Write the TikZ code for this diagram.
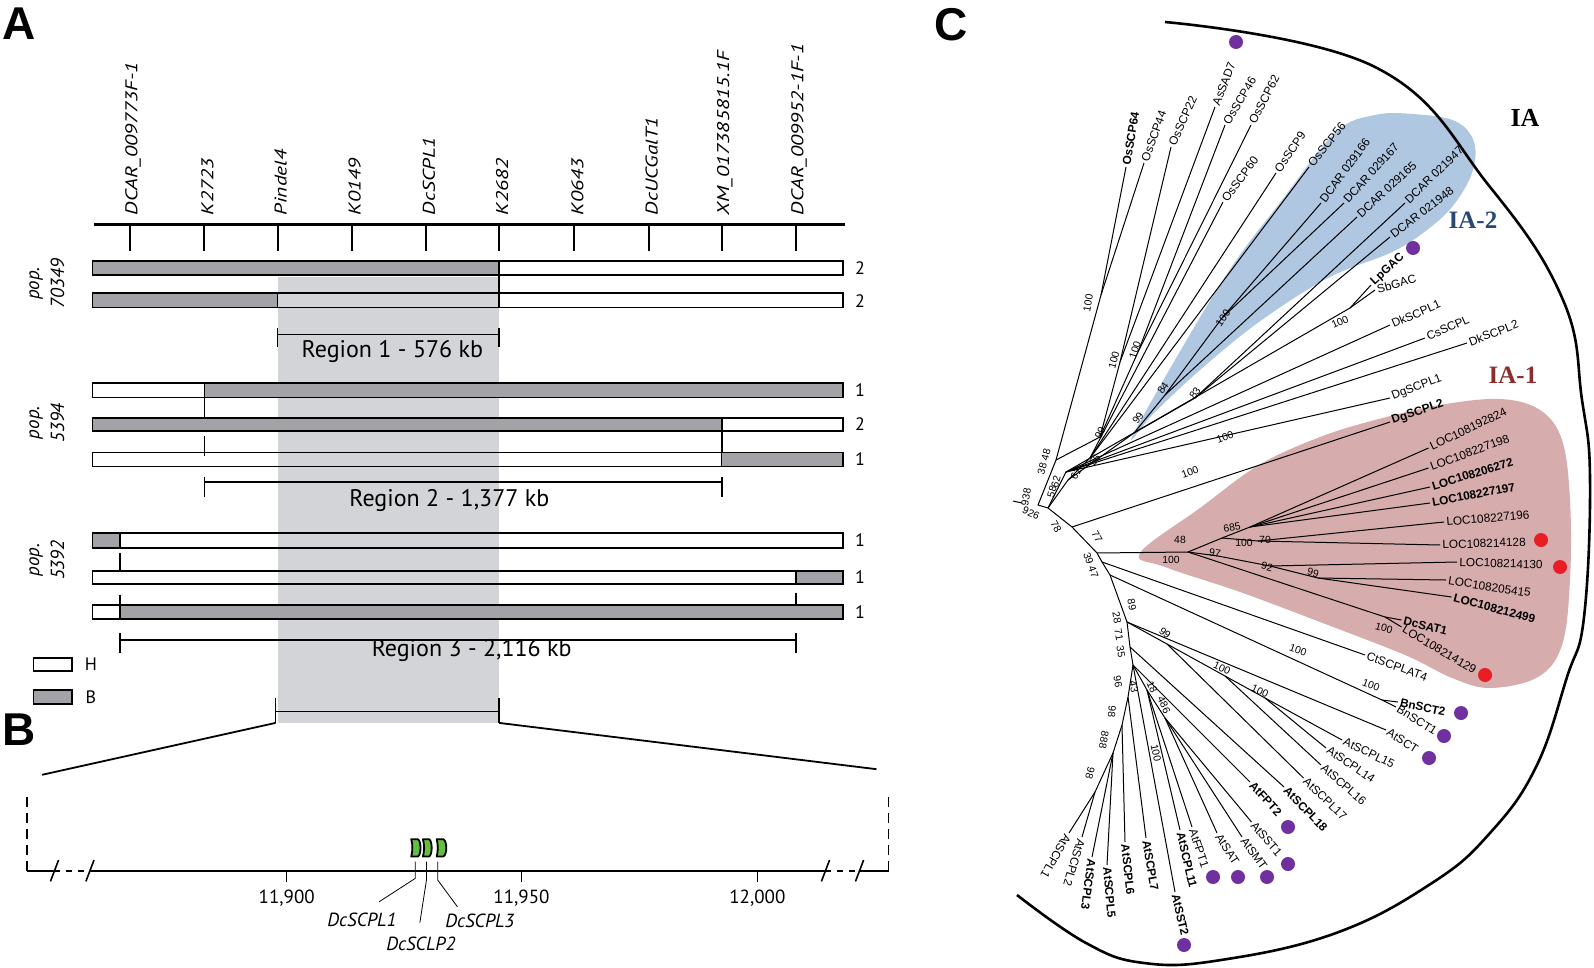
\documentclass[tikz,border=0pt]{standalone}
\usepackage{fontspec}
\setmainfont{Liberation Sans}
\newfontfamily\pts{PT Sans}
\newfontfamily\ptsw[FakeStretch=1.26]{PT Sans}
\newfontfamily\serf{Liberation Serif}
\definecolor{barg}{RGB}{163,163,167}
\definecolor{bandc}{RGB}{211,212,215}
\definecolor{pinkc}{RGB}{214,172,172}
\definecolor{bluec}{RGB}{176,199,225}
\definecolor{purp}{RGB}{112,48,160}
\definecolor{redd}{RGB}{232,30,36}
\definecolor{genec}{RGB}{102,190,64}
\definecolor{iablue}{RGB}{40,72,120}
\definecolor{iared}{RGB}{140,45,45}
\newcommand\lfs{\fontsize{5.9}{6.5}\selectfont}
\newcommand\bss{\fontsize{5.2}{6}\selectfont}
\newcommand\leaf[6][lf]{\draw[br] (#3) -- (#4); \node[#1,rotate=#5] (#2) at (#4) {#6};}
\begin{document}
\begin{tikzpicture}[x=0.5pt,y=-0.5pt,
  br/.style={line width=0.5pt},
  lf/.style={anchor=west,inner sep=1pt,font=\lfs},
  lfb/.style={lf,font=\lfs\bfseries},
  bs/.style={inner sep=0pt,font=\bss},
  bl/.style={line width=0.8pt},
  mlab/.style={rotate=90,anchor=west,inner sep=0pt,font=\ptsw\itshape\fontsize{8.5}{10}\selectfont},
  poplab/.style={rotate=90,align=center,inner sep=0pt,font=\pts\itshape\fontsize{9.5}{12.5}\selectfont},
  numlab/.style={inner sep=0pt,font=\pts\fontsize{9}{10}\selectfont},
  reglab/.style={inner sep=0pt,font=\pts\fontsize{12}{13}\selectfont},
  axlab/.style={inner sep=0pt,font=\pts\fontsize{9.5}{11}\selectfont},
  genelab/.style={inner sep=0pt,font=\pts\itshape\fontsize{9.5}{11}\selectfont},
  panel/.style={inner sep=0pt,font=\bfseries\fontsize{23}{25}\selectfont},
  gene/.style={draw=black,line width=0.9pt,fill=genec,line join=round},
  dot/.style={circle,inner sep=0pt,minimum size=7pt}
]
\useasboundingbox (0,0) rectangle (1594,968);

% ---------------- Panels A and B -----------------
\begin{scope}[scale=1.0166]
\fill[bandc] (273,272) rectangle (491,711);
\draw[line width=1.5pt] (92,221) -- (831,221);
\foreach \x/\t [count=\i] in {128/{DCAR\_009773F-1},201/K2723,273/Pindel4,346/K0149,419/DcSCPL1,491/K2682,565/K0643,638/DcUCGalT1,710/{XM\_017385815.1F},783/{DCAR\_009952-1F-1}} {
  \draw[line width=1pt] (\x,221) -- (\x,247);
  \node[mlab] (mk\i) at (\x+3,212) {\t};
}
% pop. 70349
\fill[barg] (91,257) rectangle (491,270.5);
\draw[bl] (91,257) rectangle (829,270.5);
\draw[bl] (491,257) -- (491,302.3);
\fill[barg] (91,288.5) rectangle (273,302.3);
\draw[bl] (91,288.5) rectangle (829,302.3);
\draw[bl] (273,288.5) -- (273,302.3);
\node[numlab] (n1) at (846,264) {2};
\node[numlab] (n2) at (846,296) {2};
\draw[bl] (273,323) -- (273,341) (491,323) -- (491,341) (273,329) -- (491,329);
\node[reglab] (r1) at (386,346) {Region 1 - 576 kb};
\node[poplab] (p1) at (46,279) {pop.\\70349};
% pop. 5394
\fill[barg] (201,377) rectangle (829,391);
\draw[bl] (91,377) rectangle (829,391);
\draw[bl] (201,377) -- (201,411);
\fill[barg] (91,411) rectangle (710,424);
\draw[bl] (91,411) rectangle (829,424);
\draw[bl] (710,411) -- (710,459);
\draw[bl] (201,429) -- (201,449);
\fill[barg] (710,445) rectangle (829,459);
\draw[bl] (91,445) rectangle (829,459);
\node[numlab] (n3) at (846,384) {1};
\node[numlab] (n4) at (846,417) {2};
\node[numlab] (n5) at (846,452) {1};
\draw[bl] (201,469) -- (201,489) (710,469) -- (710,489) (201,474) -- (710,474);
\node[reglab] (r2) at (442,492) {Region 2 - 1,377 kb};
\node[poplab] (p2) at (46,416) {pop.\\5394};
% pop. 5392
\fill[barg] (91,524.5) rectangle (118,539);
\draw[bl] (91,524.5) rectangle (829,539);
\draw[bl] (118,524.5) -- (118,539);
\draw[bl] (118,544) -- (118,561.4);
\fill[barg] (783,561.4) rectangle (829,574.5);
\draw[bl] (91,561.4) rectangle (829,574.5);
\draw[bl] (783,561.4) -- (783,574.5);
\draw[bl] (118,585) -- (118,595) (783,583) -- (783,595);
\fill[barg] (118,595) rectangle (829,609);
\draw[bl] (91,595) rectangle (829,609);
\draw[bl] (118,595) -- (118,609);
\node[numlab] (n6) at (846,531) {1};
\node[numlab] (n7) at (846,568) {1};
\node[numlab] (n8) at (846,602) {1};
\draw[bl] (118,623) -- (118,642) (783,623) -- (783,642) (118,629.5) -- (783,629.5);
\node[reglab] (r3) at (464,640) {Region 3 - 2,116 kb};
\node[poplab] (p3) at (46,551) {pop.\\5392};
% legend
\draw[bl] (33,647) rectangle (71,660);
\node[numlab] (lh) at (89.5,653) {H};
\draw[bl,fill=barg] (33,679) rectangle (71,692.5);
\node[numlab] (lb) at (89.5,686) {B};
% zoom bracket
\draw[bl] (271,687) -- (271,711) (491,687) -- (491,711) (271,700) -- (491,700);
\coordinate (zl) at (271,711); \coordinate (zr) at (491,711);
\coordinate (zle) at (41.5,762); \coordinate (zre) at (862,756.5);
\draw[line width=0.9pt] (zl) -- (zle);
\draw[line width=0.9pt] (zr) -- (zre);
% panel B axis
\draw[line width=0.8pt,dash pattern=on 5pt off 3pt] (26.5,784) -- (26.5,856.5);
\draw[line width=0.8pt,dash pattern=on 5pt off 3pt] (874,784) -- (874,856.5);
\draw[line width=0.9pt] (26.5,856.5) -- (53.6,856.5) (88.5,856.5) -- (812,856.5) (845.5,856.5) -- (874,856.5);
\draw[line width=0.9pt,dash pattern=on 3pt off 3pt] (53.6,856.5) -- (88.5,856.5) (812,856.5) -- (845.5,856.5);
\foreach \s in {53.6,88.5,812,845.5} \draw[line width=0.8pt] (\s-4,867) -- (\s+4,846);
\foreach \x/\t [count=\i] in {282/{11,900},513/{11,950},745/{12,000}} {
  \draw[line width=0.8pt] (\x,856.5) -- (\x,868);
  \node[axlab] (ax\i) at (\x,883) {\t};
}
% genes
\draw[gene] (404.5,825.5) -- (411,825.5) .. controls (414.5,827) and (414.5,841) .. (411,842.5) -- (404.5,842.5) .. controls (406,838) and (406,830) .. (404.5,825.5) -- cycle;
\draw[gene] (416,825.5) -- (422,825.5) .. controls (425.5,827) and (425.5,841) .. (422,842.5) -- (416,842.5) .. controls (417.5,838) and (417.5,830) .. (416,825.5) -- cycle;
\draw[gene] (429.5,825.5) -- (436,825.5) .. controls (440,827) and (440,841) .. (436,842.5) -- (429.5,842.5) .. controls (431,838) and (431,830) .. (429.5,825.5) -- cycle;
\draw[line width=0.4pt] (408.5,847.6) -- (408.5,864) -- (373,887);
\draw[line width=0.4pt] (419.5,847.6) -- (419.5,865.6) -- (413,907.6);
\draw[line width=0.4pt] (430.5,847.6) -- (430.5,865.6) -- (450,892);
\node[genelab] (g1) at (356,905) {DcSCPL1};
\node[genelab] (g2) at (414,928) {DcSCLP2};
\node[genelab] (g3) at (472,906) {DcSCPL3};
\end{scope}

\node[panel] (PA) at (19,24) {A};
\node[panel] (PB) at (19,730) {B};
\node[panel] (PC) at (951,25) {C};

% ---------------- Panel C -----------------
\fill[bluec] plot[smooth cycle, tension=0.6] coordinates {(1134,433) (1221,283) (1282,200) (1336,132) (1375,115) (1413,114) (1455,121) (1474,142) (1472,173) (1452,207) (1423,233) (1390,253) (1328,278) (1259,322) (1200,370) (1155,412)};
\fill[pinkc] plot[smooth cycle, tension=0.6] coordinates {(1140,553) (1200,508) (1259,465) (1320,437) (1375,420) (1440,405) (1500,399) (1540,410) (1562,440) (1570,500) (1570,580) (1562,645) (1538,677) (1490,688) (1452,678) (1405,655) (1320,622) (1240,592) (1165,567)};

\coordinate (R0) at (1013,501); \coordinate (R1) at (1022,503);
\coordinate (RT) at (1038,505);
\coordinate (UA) at (1046,485);
\coordinate (UB) at (1056,460);
\coordinate (U0) at (1048,508);
\coordinate (nA) at (1101,295);
\coordinate (nE) at (1100,437);
\coordinate (nC) at (1120,362);
\coordinate (nD) at (1138,352);
\coordinate (UC) at (1068,480);
\coordinate (UD) at (1090,458);
\coordinate (nG) at (1134,433);
\coordinate (nH) at (1165,395);
\coordinate (nI) at (1222,318);
\coordinate (nJ) at (1195,398);
\coordinate (UE) at (1066,472);
\coordinate (nK) at (1350,308);
\coordinate (n78) at (1072,527);
\coordinate (n77) at (1097,553);
\coordinate (L0) at (1102,562);
\coordinate (L0b) at (1110,575);
\coordinate (L1) at (1127,622);
\coordinate (L2) at (1130,647);
\coordinate (L3) at (1133,665);
\coordinate (L4) at (1128,697);
\coordinate (L5) at (1122,725);
\coordinate (L6) at (1113,753);
\coordinate (L7) at (1095,792);
\coordinate (nP) at (1188,552);
\coordinate (nQ) at (1222,538);
\coordinate (nR) at (1250,527);
\coordinate (nS) at (1258,541);
\coordinate (nT) at (1218,556);
\coordinate (nU) at (1270,566);
\coordinate (nV) at (1318,578);
\coordinate (nW) at (1385,617);
\coordinate (BnJ) at (1382,700);
\coordinate (n99) at (1167,644);
\coordinate (nX) at (1225,676);
\coordinate (n100a) at (1265,698);
\coordinate (n18) at (1147,690);
\coordinate (n486) at (1165,718);

\draw[br] (R0) -- (R1);
\draw[br] (UB) -- (UA) -- (RT) -- (U0) -- (n78) -- (n77) -- (L0) -- (L0b) -- (L1) -- (L2) -- (L3) -- (L4) -- (L5) -- (L6) -- (L7);
\draw[br] (UB) -- (nA);
\draw[br] (UB) -- (nE) -- (nC);
\draw[br] (nE) -- (nD);
\draw[br] (U0) -- (UC) -- (UD);
\draw[br] (UC) -- (nG) -- (nH) -- (nI);
\draw[br] (nG) -- (nJ);
\draw[br] (U0) -- (UE) -- (nK);
\draw[br] (n77) -- (nP) -- (nQ) -- (nR);
\draw[br] (nQ) -- (nS);
\draw[br] (nP) -- (nT) -- (nU) -- (nV);
\draw[br] (nP) -- (nW);
\draw[br] (L0b) -- (BnJ);
\draw[br] (L1) -- (n99) -- (nX) -- (n100a);
\draw[br] (L3) -- (n18) -- (n486);

% upper leaves
\leaf[lfb]{OsSCP64}{nA}{1126,167}{80.5}{OsSCP64}
\leaf{OsSCP44}{nA}{1144,163}{70}{OsSCP44}
\leaf{OsSCP22}{nC}{1171,147}{65.6}{OsSCP22}
\leaf{AsSAD7}{nC}{1215,107}{68.7}{AsSAD7}
\leaf{OsSCP46}{nD}{1225,125}{59}{OsSCP46}
\leaf{OsSCP62}{nD}{1251,125}{62.6}{OsSCP62}
\leaf{OsSCP60}{UD}{1223,202}{53.3}{OsSCP60}
\leaf{OsSCP9}{UD}{1276,173}{56}{OsSCP9}
\leaf{OsSCP56}{UD}{1309,167}{51.5}{OsSCP56}
\leaf{DC166}{nI}{1321,203}{53.7}{DCAR 029166}
\leaf{DC167}{nI}{1344,203}{48}{DCAR 029167}
\leaf{DC165}{nH}{1357,217}{42.8}{DCAR 029165}
\leaf{DC947}{nJ}{1405,203}{44}{DCAR 021947}
\leaf{DC948}{nJ}{1390,237}{37.6}{DCAR 021948}
\leaf[lfb]{LpGAC}{nK}{1371,285}{42.7}{LpGAC}
\leaf{SbGAC}{nK}{1375,290}{16}{SbGAC}
\leaf{DkSCPL1}{UE}{1390,325}{23.5}{DkSCPL1}
\leaf{CsSCPL}{UE}{1425,338}{24}{CsSCPL}
\leaf{DkSCPL2}{UE}{1467,343}{21}{DkSCPL2}
\leaf{DgSCPL1}{UE}{1390,398}{21}{DgSCPL1}
\leaf[lfb]{DgSCPL2}{n78}{1390,422}{19}{DgSCPL2}
% IA-1 leaves
\leaf{LOCa}{nR}{1428.5,448}{25.6}{LOC108192824}
\leaf{LOCb}{nR}{1428.5,468}{20.5}{LOC108227198}
\leaf[lfb]{LOCc}{nR}{1430,487}{17}{LOC108206272}
\leaf[lfb]{LOCd}{nR}{1430,503}{10.8}{LOC108227197}
\leaf{LOCe}{nS}{1444,522}{4.9}{LOC108227196}
\leaf{LOCf}{nS}{1440,545}{2}{LOC108214128}
\leaf{LOCg}{nU}{1457,562}{-2}{LOC108214130}
\leaf{LOCh}{nV}{1446,580}{-8.7}{LOC108205415}
\leaf[lfb]{LOCi}{nV}{1451.5,597}{-15}{LOC108212499}
\leaf[lfb]{DcSAT1}{nW}{1401.5,620}{-14}{DcSAT1}
\leaf{LOCj}{nW}{1401.5,627}{-30.6}{LOC108214129}
% lower leaves
\leaf{CtSCPLAT4}{L0}{1365,655}{-20}{CtSCPLAT4}
\leaf[lfb]{BnSCT2}{BnJ}{1398,702}{-12}{BnSCT2}
\leaf{BnSCT1}{BnJ}{1396,707}{-32}{BnSCT1}
\leaf{AtSCT}{L1}{1386,730}{-33}{AtSCT}
\leaf{AtSCPL15}{n100a}{1342,740}{-25.6}{AtSCPL15}
\leaf{AtSCPL14}{n100a}{1326,748}{-33.7}{AtSCPL14}
\leaf{AtSCPL16}{nX}{1321,765}{-41}{AtSCPL16}
\leaf{AtSCPL17}{n99}{1303.5,778}{-44}{AtSCPL17}
\leaf[lfb]{AtSCPL18}{L2}{1284,787}{-46}{AtSCPL18}
\leaf[lfb]{AtFPT2}{L3}{1250,782}{-47.4}{AtFPT2}
\leaf{AtSST1}{n486}{1251.5,822}{-49}{AtSST1}
\leaf{AtSMT}{n486}{1242,837}{-54}{AtSMT}
\leaf{AtSAT}{n486}{1217,833}{-57}{AtSAT}
\leaf{AtFPT1}{n18}{1192,827}{-72}{AtFPT1}
\leaf[lfb]{AtSCPL11}{n18}{1180,830}{-77}{AtSCPL11}
\leaf[lfb]{AtSST2}{L3}{1175,892}{-77}{AtSST2}
\leaf[lfb]{AtSCPL7}{L4}{1146,838}{-80.5}{AtSCPL7}
\leaf[lfb]{AtSCPL6}{L5}{1125,842}{-84}{AtSCPL6}
\leaf[lfb]{AtSCPL5}{L6}{1107,865}{-85}{AtSCPL5}
\leaf[lfb]{AtSCPL3}{L6}{1092,857}{-97.6}{AtSCPL3}
\leaf{AtSCPL2}{L7}{1082,837}{-107}{AtSCPL2}
\leaf{AtSCPL1}{L7}{1069,833}{-120}{AtSCPL1}

% bootstrap values
\node[bs,rotate=80] (b1) at (1088,303) {100};
\node[bs,rotate=75] (b2) at (1114,360) {100};
\node[bs,rotate=72] (b3) at (1135,350) {100};
\node[bs,rotate=65] (b4) at (1100,433) {99};
\node[bs,rotate=75] (b5) at (1044,462) {38 48};
\node[bs,rotate=75] (b6) at (1052,492) {58};
\node[bs,rotate=75] (b7) at (1056,482) {62};
\node[bs,rotate=80] (b8) at (1026,497) {938};
\node[bs,rotate=-25] (b9) at (1031,513) {926};
\node[bs,rotate=60] (b10) at (1076,474) {61};
\node[bs,rotate=55] (b11) at (1095,460) {56};
\node[bs,rotate=55] (b12) at (1138,418) {99};
\node[bs,rotate=55] (b13) at (1163,388) {84};
\node[bs,rotate=55] (b14) at (1195,393) {83};
\node[bs,rotate=55] (b15) at (1223,318) {100};
\node[bs,rotate=25] (b16) at (1340,322) {100};
\node[bs,rotate=20] (b17) at (1225,437) {100};
\node[bs,rotate=20] (b18) at (1190,472) {100};
\node[bs,rotate=-60] (b19) at (1056,527) {78};
\node[bs,rotate=-60] (b20) at (1097,537) {77};
\node[bs,rotate=-70] (b21) at (1091,565) {39 47};
\node[bs] (b22) at (1180,540) {48};
\node[bs] (b23) at (1171,560) {100};
\node[bs,rotate=10] (b24) at (1232,527) {685};
\node[bs] (b25) at (1244,543) {100};
\node[bs] (b26) at (1265,540) {70};
\node[bs,rotate=-10] (b27) at (1215,553) {97};
\node[bs,rotate=-15] (b28) at (1267,567) {92};
\node[bs,rotate=-15] (b29) at (1313,573) {99};
\node[bs,rotate=-15] (b30) at (1384,628) {100};
\node[bs,rotate=-20] (b31) at (1298,650) {100};
\node[bs,rotate=-20] (b32) at (1371,685) {100};
\node[bs,rotate=-80] (b33) at (1132,605) {89};
\node[bs,rotate=-80] (b34) at (1117,618) {28};
\node[bs,rotate=-80] (b35) at (1119,635) {71};
\node[bs,rotate=-80] (b36) at (1121,652) {35};
\node[bs,rotate=-40] (b37) at (1165,633) {99};
\node[bs,rotate=-25] (b38) at (1222,668) {100};
\node[bs,rotate=-25] (b39) at (1260,691) {100};
\node[bs,rotate=-80] (b40) at (1118,682) {96};
\node[bs,rotate=-80] (b41) at (1134,687) {43};
\node[bs,rotate=-65] (b42) at (1152,687) {18};
\node[bs,rotate=-65] (b43) at (1164,705) {486};
\node[bs,rotate=-78] (b44) at (1156,753) {100};
\node[bs,rotate=-95] (b45) at (1112,712) {98};
\node[bs,rotate=-100] (b46) at (1104,740) {888};
\node[bs,rotate=-105] (b47) at (1090,773) {98};

% dots
\foreach \p [count=\i] in {(1236,42),(1413,248),(1461,713),(1444,736),(1429,758),(1288,827),(1288,864),(1267,877),(1238,877),(1213,877),(1184,945)}
  \node[dot,fill=purp] (pd\i) at \p {};
\foreach \p [count=\i] in {(1541,540),(1560,567),(1485,675)}
  \node[dot,fill=redd] (rd\i) at \p {};

% clade labels
\node[inner sep=0pt,font=\serf\bfseries\fontsize{13}{14}\selectfont] (IA) at (1525,118) {IA};
\node[inner sep=0pt,text=iablue,font=\serf\bfseries\fontsize{12.5}{14}\selectfont] (IA2) at (1473,220) {IA-2};
\node[inner sep=0pt,text=iared,font=\serf\bfseries\fontsize{12.5}{14}\selectfont] (IA1) at (1513,375) {IA-1};

% enclosing arc
\draw[line width=1.3pt] plot[smooth, tension=0.7] coordinates {(1165,22) (1375,67) (1490,187) (1563,300) (1582,400) (1590,480) (1584,617) (1567,677) (1536,767) (1490,833) (1432,883) (1336,933) (1221,960) (1144,963) (1086,943) (1017,895)};
\end{tikzpicture}
\end{document}
